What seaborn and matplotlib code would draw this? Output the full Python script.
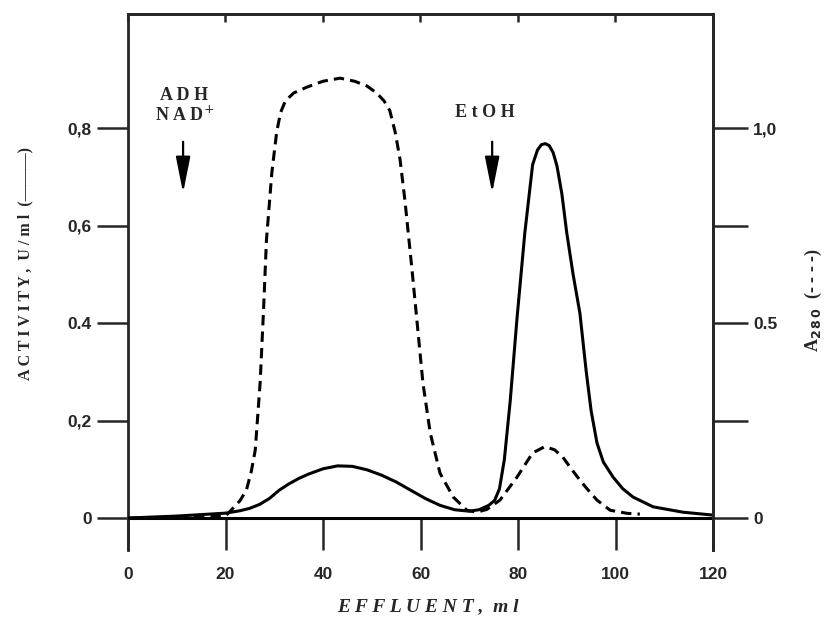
import matplotlib
matplotlib.use('Agg')
from matplotlib import pyplot as plt
import seaborn as sns

# solid curve: enzyme activity (U/ml), left axis
activity_ml = [0, 5, 10, 15, 20, 23, 25, 27, 29, 31, 33, 35, 37, 40, 43, 46, 49, 52, 55, 58,
               61, 64, 67, 70, 72, 74, 75.2, 76.2, 77.2, 78.4, 79.8, 81.4, 83, 84, 84.8, 85.6,
               86.4, 87.2, 88, 89, 90, 91.3, 92.7, 94, 95, 96.2, 97.5, 99.5, 101.5, 103.6,
               107.7, 113.8, 120]
activity = [0.0, 0.002, 0.004, 0.007, 0.010, 0.015, 0.020, 0.028, 0.040, 0.057, 0.070, 0.081,
            0.090, 0.101, 0.107, 0.106, 0.099, 0.088, 0.074, 0.057, 0.040, 0.026, 0.017, 0.014,
            0.017, 0.026, 0.036, 0.06, 0.12, 0.24, 0.41, 0.585, 0.725, 0.755, 0.766, 0.768,
            0.764, 0.75, 0.722, 0.665, 0.585, 0.50, 0.42, 0.30, 0.22, 0.154, 0.115, 0.084,
            0.06, 0.043, 0.023, 0.012, 0.006]

# dashed curve: A280, right axis
a280_ml = [0, 10, 20, 21.6, 23, 24.3, 25.3, 26.1, 27.1, 27.8, 28.4, 29.5, 30.5, 31.3, 32.3,
           34, 36.7, 40, 43.5, 46.5, 49, 51, 52.5, 53.7, 54.8, 55.8, 56.8, 58.2, 59.2, 60.5,
           62, 64, 66.7, 69.5, 71.5, 73.6, 76.3, 79.8, 83, 85.5, 87.5, 89.2, 91, 92.7, 94.5,
           96.2, 98.9, 102.4, 105]
a280 = [0.0, 0.0, 0.005, 0.026, 0.045, 0.072, 0.12, 0.174, 0.346, 0.533, 0.713, 0.885, 0.99,
        1.04, 1.07, 1.09, 1.105, 1.12, 1.128, 1.12, 1.108, 1.09, 1.07, 1.045, 0.99, 0.92,
        0.815, 0.644, 0.515, 0.346, 0.218, 0.115, 0.054, 0.02, 0.015, 0.022, 0.046, 0.105,
        0.167, 0.183, 0.175, 0.156, 0.125, 0.097, 0.07, 0.046, 0.02, 0.012, 0.01]

x_ticks = [0, 20, 40, 60, 80, 100, 120]
left_ticks = [0, 0.2, 0.4, 0.6, 0.8]
left_labels = ["0", "0,2", "0.4", "0,6", "0,8"]
right_ticks = [0, 0.25, 0.5, 0.75, 1.0]
right_labels = ["0", "", "0.5", "", "1,0"]

sns.set_style("ticks")
plt.rcParams['font.family'] = ['Liberation Sans', 'DejaVu Sans']

fig = plt.figure(figsize=(8.34, 6.24), dpi=100)
ax = fig.add_axes([128 / 834, 1 - 550 / 624, (713 - 128) / 834, (550 - 14) / 624])
ax2 = ax.twinx()

lw = 2.2
sns.lineplot(x=activity_ml, y=activity, ax=ax, color='black', linewidth=lw)
sns.lineplot(x=a280_ml, y=a280, ax=ax2, color='black', linewidth=lw,
             linestyle=(0, (3.4, 2.0)))

ylo, yhi = -0.0656, 1.034
ax.set_xlim(0, 120)
ax.set_ylim(ylo, yhi)
ax2.set_ylim(ylo * 1.25, yhi * 1.25)
ax.axhline(0, color='black', linewidth=2.2, zorder=1)

for s in ['left', 'right', 'top']:
    ax.spines[s].set_linewidth(2.0)
ax.spines['bottom'].set_visible(False)
for s in ['left', 'top', 'bottom']:
    ax2.spines[s].set_visible(False)
ax2.spines['right'].set_linewidth(2.0)

tick_font = dict(fontsize=12.5, fontweight='bold')
ax.set_xticks(x_ticks)
ax.set_xticklabels([str(t) for t in x_ticks], **tick_font)
ax.tick_params(axis='x', direction='in', length=23, width=1.8, pad=12, top=False)
ax.set_yticks(left_ticks)
ax.set_yticklabels(left_labels, **tick_font)
ax.tick_params(axis='y', direction='out', length=22, width=1.8, pad=4, right=False)
ax2.set_yticks(right_ticks)
ax2.set_yticklabels(right_labels, **tick_font)
ax2.tick_params(axis='y', direction='out', length=25, width=1.8, pad=4)

top = ax.secondary_xaxis('top')
top.set_xticks(x_ticks)
top.tick_params(direction='in', length=6, width=1.8, labeltop=False)
top.spines['top'].set_linewidth(2.0)

ax.set_xlabel("")
ax.set_ylabel("")
ax2.set_ylabel("")

serif = ['Liberation Serif', 'DejaVu Serif']
ax.text(11.4, 0.866, "A D H", ha='center', va='center', fontsize=13,
        fontweight='bold', family=serif)
ax.text(11.6, 0.826, "N A D$^{+}$", ha='center', va='center', fontsize=13,
        fontweight='bold', family=serif)
ax.text(73.2, 0.831, "E t O H", ha='center', va='center', fontsize=13,
        fontweight='bold', family=serif)
arrow = dict(arrowstyle='-|>,head_width=0.2,head_length=1.0', color='black',
             lw=1.6, mutation_scale=22, shrinkA=0, shrinkB=0)
ax.annotate("", xy=(11.3, 0.667), xytext=(11.3, 0.772), arrowprops=arrow)
ax.annotate("", xy=(74.7, 0.667), xytext=(74.7, 0.772), arrowprops=arrow)

fig.text(428 / 834, 1 - 607 / 624, "E F F L U E N T ,  m l", ha='center', va='center',
         fontsize=14, fontweight='bold', style='italic', family=serif)
fig.text(25 / 834, 1 - 263 / 624, "A C T I V I T Y ,  U / m l  (———)", rotation=90,
         ha='center', va='center', fontsize=11.5, fontweight='bold', family=serif)
fig.text(813 / 834, 1 - 300 / 624, r"A$_{\mathbf{2\,8\,0}}$  (- - - -)", rotation=90,
         ha='center', va='center', fontsize=13, fontweight='bold', family=serif)

fig.savefig("out.png", dpi=100, facecolor='white')
